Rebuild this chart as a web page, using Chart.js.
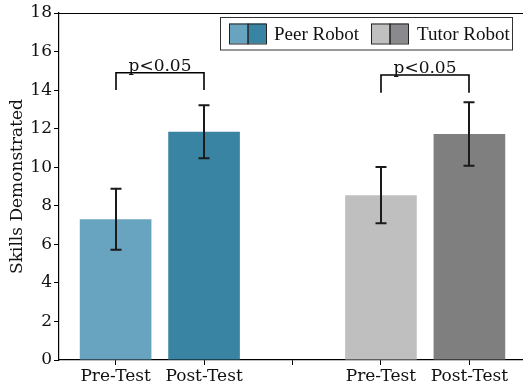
<!DOCTYPE html>
<html><head><meta charset="utf-8">
<script src="https://cdn.jsdelivr.net/npm/chart.js@4/dist/chart.umd.min.js"></script>
<style>html,body{margin:0;padding:0;background:#fff;overflow:hidden}#wrap{width:530px;height:387px;position:relative}</style>
</head><body><div id="wrap"><canvas id="c" width="530" height="387"></canvas></div>
<script>
// ---- data ----
const categories = ['Pre-Test', 'Post-Test', '', 'Pre-Test', 'Post-Test'];
const positions = [0, 1, 3, 4];
const means = [7.3, 11.84, 8.55, 11.72];
const errors = [1.58, 1.37, 1.46, 1.65];
const groups = ['Peer Robot', 'Tutor Robot'];
const yTicks = [0, 2, 4, 6, 8, 10, 12, 14, 16, 18];
const bracketFrom = [0, 3];
const bracketTo = [1, 4];
const bracketTop = [14.9, 14.78];
const bracketLeg = [14.0, 13.86];
const bracketText = ['p<0.05', 'p<0.05'];

// ---- styles ----
const barColors = ['#68a4bf', '#3a84a3', '#bfbfbf', '#7f7f7f'];
const legendColors = [['#68a4bf', '#3a84a3'], ['#c0c0c0', '#8a8a8e']];
const FONT = 'DejaVu Serif';
const LEGEND_FONT = 'Liberation Serif';

const overlay = {
  id: 'overlay',
  afterDraw(chart) {
    const c = chart.ctx, xs = chart.scales.x, ys = chart.scales.y, ca = chart.chartArea;
    c.save();
    // top spine
    c.strokeStyle = '#000'; c.lineWidth = 1.2;
    c.beginPath(); c.moveTo(ca.left, ca.top + 0.5); c.lineTo(ca.right, ca.top + 0.5); c.stroke();
    // error bars
    c.strokeStyle = '#1a1a1a'; c.lineWidth = 2;
    positions.forEach((p, i) => {
      const x = Math.round(xs.getPixelForValue(p));
      const y1 = ys.getPixelForValue(means[i] + errors[i]);
      const y2 = ys.getPixelForValue(means[i] - errors[i]);
      c.beginPath();
      c.moveTo(x, y1); c.lineTo(x, y2);
      c.moveTo(x - 5.5, y1); c.lineTo(x + 5.5, y1);
      c.moveTo(x - 5.5, y2); c.lineTo(x + 5.5, y2);
      c.stroke();
    });
    // brackets
    c.strokeStyle = '#000'; c.lineWidth = 1.6; c.fillStyle = '#111';
    c.font = '17px "' + FONT + '"'; c.textAlign = 'center'; c.textBaseline = 'alphabetic';
    bracketFrom.forEach((f, i) => {
      const xa = Math.round(xs.getPixelForValue(f)), xb = Math.round(xs.getPixelForValue(bracketTo[i]));
      const yt = ys.getPixelForValue(bracketTop[i]), yl = ys.getPixelForValue(bracketLeg[i]);
      c.beginPath(); c.moveTo(xa, yl); c.lineTo(xa, yt); c.lineTo(xb, yt); c.lineTo(xb, yl); c.stroke();
      c.fillText(bracketText[i], (xa + xb) / 2, yt - 2);
    });
    // legend
    const bx = 220.5, by = 17.5, bw = 292, bh = 32.5;
    c.fillStyle = '#fff'; c.fillRect(bx, by, bw, bh);
    c.strokeStyle = '#333'; c.lineWidth = 1; c.strokeRect(bx, by, bw, bh);
    const patchX = [229, 371], textX = [274, 417];
    c.textAlign = 'left'; c.textBaseline = 'alphabetic'; c.font = '19px "' + LEGEND_FONT + '"';
    groups.forEach((g, i) => {
      const px = patchX[i], py = 23.5, pw = 37, ph = 20;
      c.fillStyle = legendColors[i][0]; c.fillRect(px, py, pw / 2, ph);
      c.fillStyle = legendColors[i][1]; c.fillRect(px + pw / 2, py, pw / 2, ph);
      c.strokeStyle = '#222'; c.lineWidth = 1;
      c.strokeRect(px + 0.5, py + 0.5, pw / 2, ph); c.strokeRect(px + pw / 2 + 0.5, py + 0.5, pw / 2, ph);
      c.fillStyle = '#111'; c.fillText(g, textX[i], 40);
    });
    c.restore();
  }
};

new Chart(document.getElementById('c'), {
  type: 'bar',
  data: {
    datasets: [{
      data: positions.map((x, i) => ({ x: x, y: means[i] })),
      backgroundColor: barColors,
      borderWidth: 0,
      barPercentage: 0.81,
      categoryPercentage: 1
    }]
  },
  options: {
    responsive: false,
    animation: false,
    layout: { padding: { left: 0, right: 4, top: 13, bottom: 0 } },
    plugins: { legend: { display: false }, tooltip: { enabled: false } },
    scales: {
      x: {
        type: 'linear', min: -0.64, max: 4.64, offset: false,
        grid: { display: true, offset: false, drawOnChartArea: false, drawTicks: true, tickLength: 5, tickColor: '#000', tickWidth: 1 },
        border: { display: true, color: '#000', width: 1.2 },
        afterBuildTicks: s => { s.ticks = categories.map((_, i) => ({ value: i })); },
        ticks: { callback: v => categories[v] || '', font: { family: FONT, size: 17 }, color: '#111', padding: 1, maxRotation: 0, autoSkip: false },
        afterFit: s => { s.height = 27; }
      },
      y: {
        min: 0, max: 18,
        grid: { display: true, drawOnChartArea: false, drawTicks: true, tickLength: 5, tickColor: '#000', tickWidth: 1 },
        border: { display: true, color: '#000', width: 1.2 },
        afterBuildTicks: s => { s.ticks = yTicks.map(v => ({ value: v })); },
        ticks: { font: { family: FONT, size: 17 }, color: '#111', padding: 2, autoSkip: false },
        title: { display: true, text: 'Skills Demonstrated', font: { family: FONT, size: 17 }, color: '#111', padding: { top: 7, bottom: 0 } },
        afterFit: s => { s.width = 59; }
      }
    }
  },
  plugins: [overlay]
});
</script></body></html>
